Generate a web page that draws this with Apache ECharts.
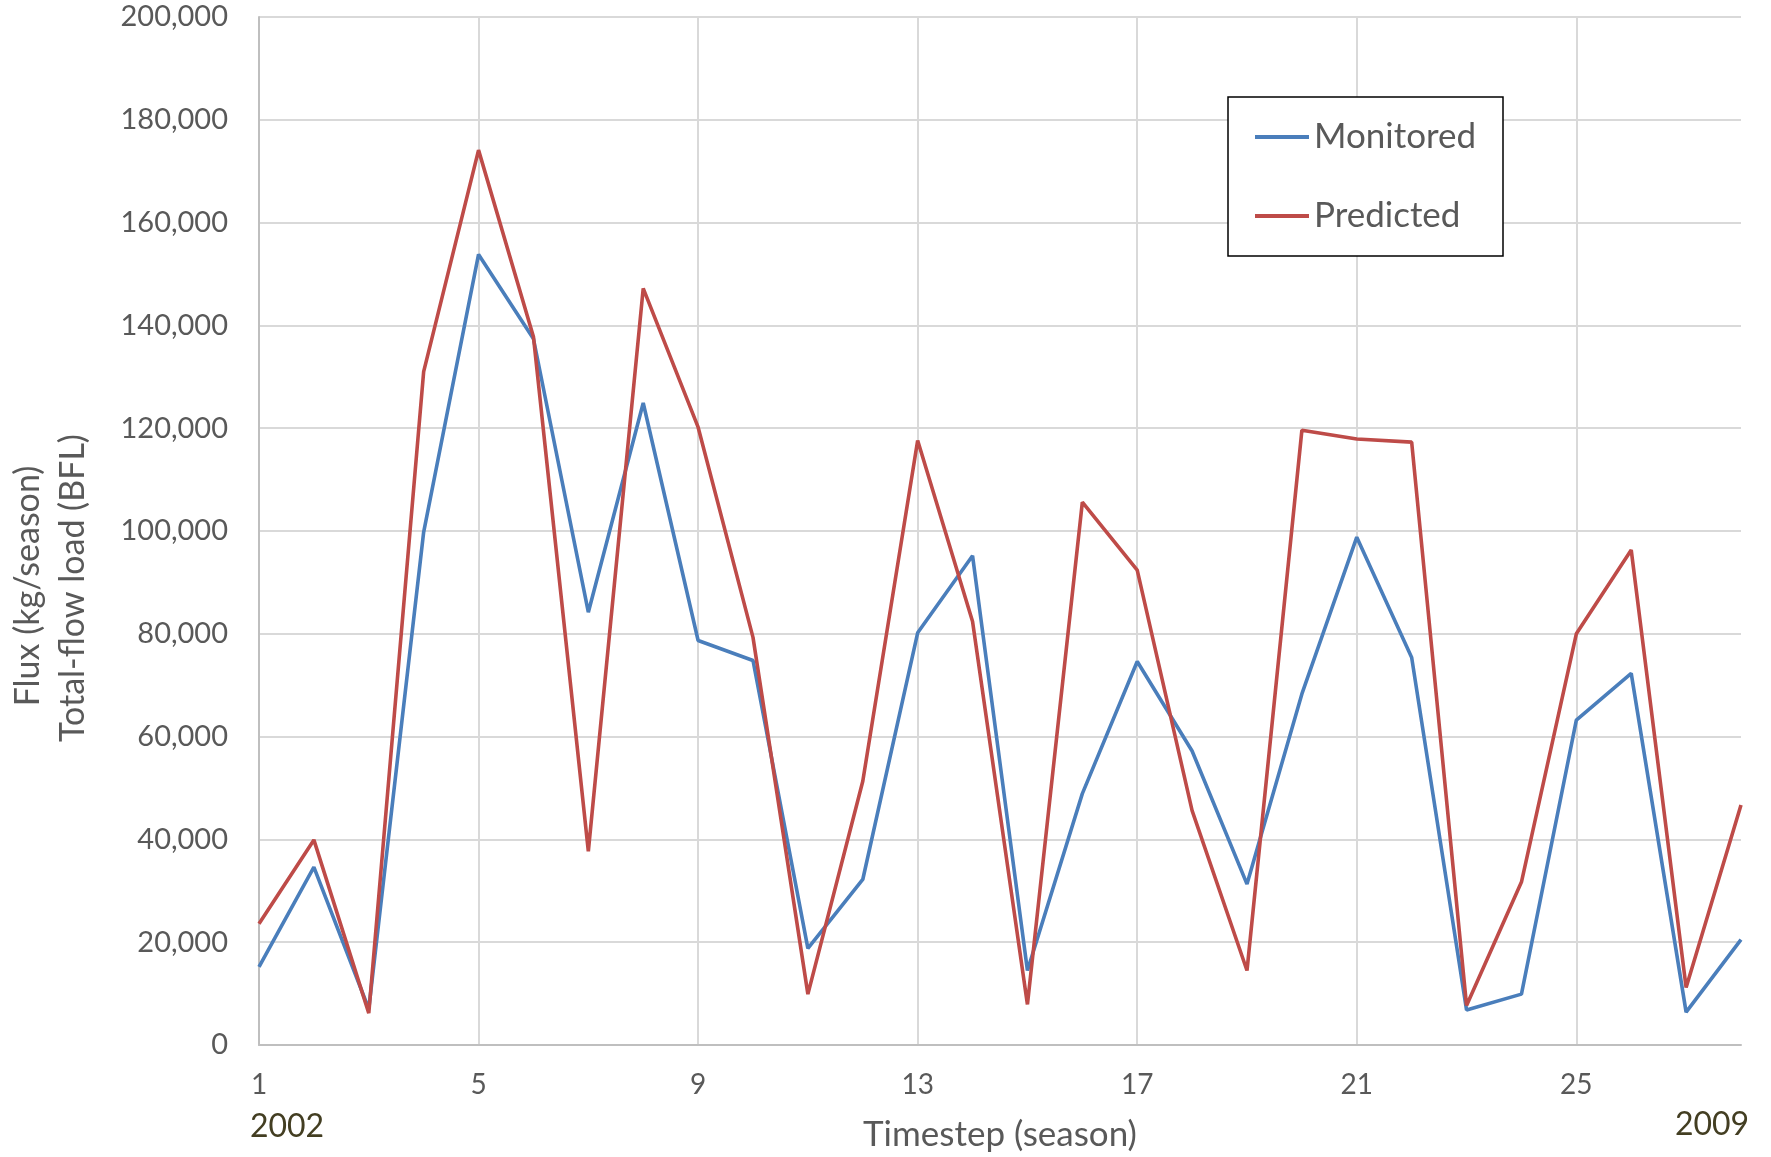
<!DOCTYPE html>
<html>
<head>
<meta charset="utf-8">
<script src="https://cdn.jsdelivr.net/npm/echarts@6/dist/echarts.min.js"></script>
<style>
  html, body { margin: 0; padding: 0; background: #ffffff; }
  #chart { width: 1771px; height: 1157px; }
</style>
</head>
<body>
<div id="chart"></div>
<script>
// ---- Data ----
const timesteps = ['1','2','3','4','5','6','7','8','9','10','11','12','13','14','15','16','17','18','19','20','21','22','23','24','25','26','27','28'];
const monitored = [15200, 34600, 7000, 99800, 153800, 137400, 84200, 124900, 78700, 74800, 18800, 32200, 80200, 95200, 14500, 48900, 74600, 57200, 31300, 68300, 98800, 75400, 6800, 9900, 63200, 72300, 6400, 20500];
const predicted = [23600, 39900, 6200, 131000, 174100, 137800, 37700, 147200, 120200, 79300, 9900, 51300, 117600, 82400, 7900, 105600, 92400, 45600, 14500, 119600, 117900, 117300, 7700, 31700, 80000, 96300, 11200, 46700];
const seriesNames = ['Monitored', 'Predicted'];
const yTicks = { min: 0, max: 200000, step: 20000 };
const yearLabels = ['2002', '2009'];
const xTitle = 'Timestep (season)';
const yTitleLines = ['Flux (kg/season)', 'Total-flow load (BFL)'];

const FONT = "Lato, 'Open Sans', 'Noto Sans', sans-serif";
const chart = echarts.init(document.getElementById('chart'), null, { renderer: 'canvas' });

chart.setOption({
  backgroundColor: '#ffffff',
  animation: false,
  grid: { left: 259, right: 30, top: 17, bottom: 111, containLabel: false },
  legend: {
    data: seriesNames,
    orient: 'vertical',
    left: 1228,
    top: 97,
    padding: [20, 24, 20, 27],
    itemGap: 39,
    itemWidth: 54,
    itemHeight: 4,
    icon: 'rect',
    borderColor: '#000000',
    borderWidth: 1.5,
    backgroundColor: '#ffffff',
    textStyle: { fontFamily: FONT, fontSize: 35, color: '#595959', lineHeight: 40, width: 165 }
  },
  xAxis: {
    type: 'category',
    data: timesteps,
    boundaryGap: false,
    axisLine: { show: true, lineStyle: { color: '#BFBFBF', width: 2 } },
    axisTick: { show: false },
    axisLabel: { interval: 3, color: '#595959', fontSize: 28, fontFamily: FONT, margin: 26 },
    splitLine: { show: true, interval: 3, lineStyle: { color: '#D9D9D9', width: 2 } },
    name: xTitle,
    nameLocation: 'middle',
    nameGap: 72,
    nameTextStyle: { color: '#595959', fontSize: 35, fontFamily: FONT }
  },
  yAxis: {
    type: 'value',
    min: yTicks.min,
    max: yTicks.max,
    interval: yTicks.step,
    axisLine: { show: true, lineStyle: { color: '#BFBFBF', width: 2 } },
    axisTick: { show: false },
    axisLabel: {
      color: '#595959', fontSize: 29, fontFamily: FONT, margin: 31,
      formatter: v => v.toLocaleString('en-US')
    },
    splitLine: { show: true, lineStyle: { color: '#D9D9D9', width: 2 } }
  },
  series: [
    {
      name: seriesNames[0], type: 'line', data: monitored, symbol: 'none',
      itemStyle: { color: '#4A7EBB' },
      lineStyle: { color: '#4A7EBB', width: 3.6 }
    },
    {
      name: seriesNames[1], type: 'line', data: predicted, symbol: 'none',
      itemStyle: { color: '#BE4B48' },
      lineStyle: { color: '#BE4B48', width: 3.6 }
    }
  ],
  graphic: [
    { type: 'text', x: 287, y: 1127, style: { text: yearLabels[0], fill: '#433E22', fontSize: 32, fontFamily: FONT, align: 'center', verticalAlign: 'middle' } },
    { type: 'text', x: 1712, y: 1125, style: { text: yearLabels[1], fill: '#433E22', fontSize: 32, fontFamily: FONT, align: 'center', verticalAlign: 'middle' } },
    { type: 'text', x: 28, y: 586, rotation: Math.PI / 2, style: { text: yTitleLines[0], fill: '#595959', fontSize: 34, fontFamily: FONT, align: 'center', verticalAlign: 'middle' } },
    { type: 'text', x: 73, y: 588, rotation: Math.PI / 2, style: { text: yTitleLines[1], fill: '#595959', fontSize: 34, fontFamily: FONT, align: 'center', verticalAlign: 'middle' } }
  ]
});
</script>
</body>
</html>
